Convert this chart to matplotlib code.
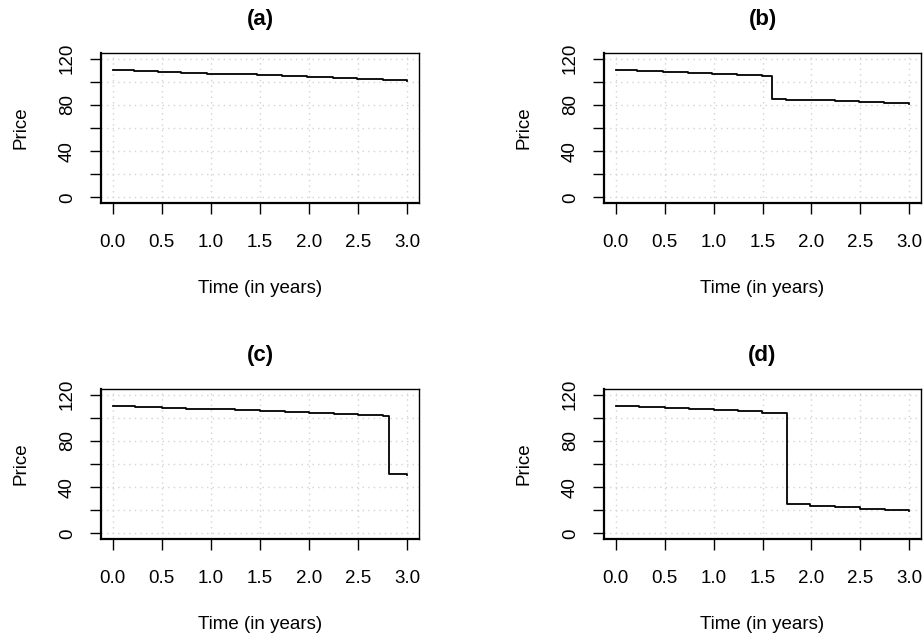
import numpy as np
import matplotlib
matplotlib.use("Agg")
import matplotlib.pyplot as plt

plt.rcParams['font.family'] = ['Liberation Sans', 'DejaVu Sans']

# step times (years) and price level after each step, plus the final value at t = 3
times_a = [0, 0.22, 0.46, 0.70, 0.96, 1.22, 1.47, 1.72, 1.98, 2.24, 2.49, 2.75]
price_a = [110.2, 109.4, 108.6, 107.7, 107.0, 106.3, 105.5, 104.6, 104.0, 103.2, 102.3, 101.6]
end_a = 101.0

times_b = [0, 0.22, 0.48, 0.74, 0.98, 1.24, 1.49, 1.60, 1.74, 1.99, 2.24, 2.49, 2.74]
price_b = [110.2, 109.3, 108.6, 107.7, 106.9, 106.1, 105.3, 85.4, 84.6, 84.0, 83.2, 82.4, 81.5]
end_b = 80.5

times_c = [0, 0.23, 0.50, 0.75, 1.00, 1.25, 1.50, 1.75, 2.00, 2.25, 2.50, 2.75, 2.81]
price_c = [110.2, 109.2, 108.5, 107.7, 107.1, 106.4, 105.6, 104.8, 104.1, 103.4, 102.6, 101.6, 51.2]
end_c = 50.3

times_d = [0, 0.24, 0.50, 0.75, 1.00, 1.25, 1.49, 1.75, 1.99, 2.24, 2.50, 2.75]
price_d = [110.1, 109.3, 108.1, 107.6, 106.7, 105.6, 104.4, 25.5, 23.8, 22.6, 21.5, 20.6]
end_d = 19.7

panels = [
    ("(a)", times_a, price_a, end_a),
    ("(b)", times_b, price_b, end_b),
    ("(c)", times_c, price_c, end_c),
    ("(d)", times_d, price_d, end_d),
]

x_ticks = [0.0, 0.5, 1.0, 1.5, 2.0, 2.5, 3.0]
y_ticks = [0, 20, 40, 60, 80, 100, 120]
y_labels = ['0', '', '40', '', '80', '', '120']

W, H = 924, 633
fig = plt.figure(figsize=(W / 100, H / 100), dpi=100)

# axes boxes in pixels: left, top, right, bottom
boxes = [(101, 53, 419, 203), (604, 53, 921, 203),
         (101, 389, 419, 539), (604, 389, 921, 539)]

fs = 13.5

for (title, t, p, end), (l, top, r, b) in zip(panels, boxes):
    ax = fig.add_axes([l / W, 1 - b / H, (r - l) / W, (b - top) / H])
    tt = np.append(t, 3.0)
    pp = np.append(p, end)
    ax.step(tt, pp, where='post', color='black', lw=1.3)

    ax.set_xlim(-0.12, 3.12)
    ax.set_ylim(-4.8, 124.8)
    ax.set_xticks(x_ticks)
    ax.set_xticklabels(['%.1f' % v for v in x_ticks], fontsize=fs)
    ax.set_yticks(y_ticks)
    ax.set_yticklabels(y_labels, fontsize=fs, rotation=90, va='center')
    ax.tick_params(length=8, width=1.0, color='black')
    ax.tick_params(axis='x', pad=14.5)
    ax.tick_params(axis='y', pad=10)

    for v in x_ticks:
        ax.axvline(v, color='#d3d3d3', lw=1.0, ls=(0, (1, 3)), zorder=0)
    for v in y_ticks:
        ax.axhline(v, color='#d3d3d3', lw=1.0, ls=(0, (1, 3)), zorder=0)

    for s in ax.spines.values():
        s.set_linewidth(1.0)
    ax.spines['left'].set_linewidth(1.6)
    ax.spines['bottom'].set_linewidth(1.6)

    ax.set_title(title, fontsize=16, fontweight='bold', pad=20.5)
    ax.set_xlabel('Time (in years)', fontsize=fs, labelpad=21)
    ax.set_ylabel('Price', fontsize=fs, labelpad=21)

fig.savefig('out.png', dpi=100)
